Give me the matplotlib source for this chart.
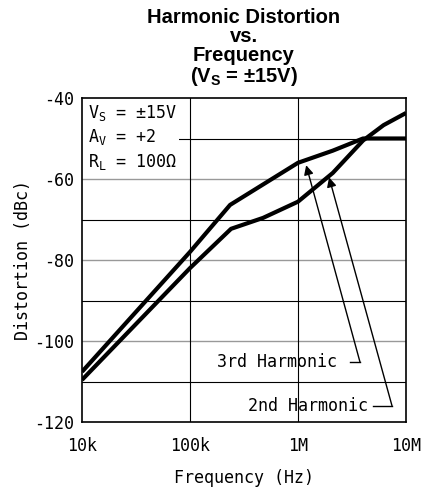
import numpy as np
import matplotlib.pyplot as plt

# distortion curves
freq_3rd = [1e4, 1e5, 2.35e5, 1e6, 2.1e6, 4e6, 1e7]
dist_3rd = [-107.6, -78.0, -66.4, -56.0, -53.0, -50.0, -50.0]

freq_2nd = [1e4, 1e5, 2.4e5, 4.75e5, 1e6, 2.1e6, 4e6, 6.2e6, 1e7]
dist_2nd = [-109.6, -82.0, -72.3, -69.6, -65.6, -58.5, -50.5, -46.7, -43.7]

yticks = [-40, -60, -80, -100, -120]
xticks = [1e4, 1e5, 1e6, 1e7]
xtick_labels = ['10k', '100k', '1M', '10M']

mono = 'DejaVu Sans Mono'
fs = 12

fig = plt.figure(figsize=(4.22, 4.95), dpi=100)
ax = fig.add_axes([82/422, 1 - 422/495, 324/422, 324/495])
ax.set_xscale('log')
ax.set_xlim(1e4, 1e7)
ax.set_ylim(-120, -40)

# grid: grey on labelled lines, black in between
for y in [-60, -80, -100]:
    ax.axhline(y, color='#999999', lw=1.0, zorder=1)
for y in [-70, -90, -110]:
    ax.axhline(y, color='black', lw=0.8, zorder=1)
ax.plot([5.3e4, 1e7], [-50, -50], color='black', lw=0.8, zorder=1)
for x in [1e5, 1e6]:
    ax.axvline(x, color='black', lw=0.8, zorder=1)

ax.plot(freq_3rd, dist_3rd, color='black', lw=3, solid_capstyle='butt', zorder=3)
ax.plot(freq_2nd, dist_2nd, color='black', lw=3, solid_capstyle='butt', zorder=3)

ax.set_yticks(yticks)
ax.set_yticklabels([str(t) for t in yticks], family=mono, fontsize=fs)
ax.set_xticks(xticks)
ax.set_xticklabels(xtick_labels, family=mono, fontsize=fs)
ax.minorticks_off()
ax.tick_params(axis='y', length=0, pad=6)
ax.tick_params(axis='x', length=0, pad=11)
for s in ax.spines.values():
    s.set_linewidth(1.2)

ax.set_xlabel('Frequency (Hz)', family=mono, fontsize=fs, labelpad=10)
ax.set_ylabel('Distortion (dBc)', family=mono, fontsize=fs, labelpad=1)

# conditions box
ax.text(0.02, 0.985, '$\\mathregular{V_S}$ = ±15V\n$\\mathregular{A_V}$ = +2\n$\\mathregular{R_L}$ = 100Ω',
        transform=ax.transAxes, va='top', ha='left', family=mono, fontsize=fs,
        linespacing=1.3, zorder=4,
        bbox=dict(facecolor='white', edgecolor='none', pad=1))

# curve labels with leader lines
ax.text(2.3e6, -105.2, '3rd Harmonic', family=mono, fontsize=fs,
        ha='right', va='center', zorder=4)
ax.plot([3.0e6, 3.75e6], [-105.2, -105.2], color='black', lw=1, zorder=4)
ax.annotate('', xy=(1.19e6, -56.6), xytext=(3.75e6, -105.2),
            arrowprops=dict(arrowstyle='-|>', color='black', lw=1,
                            mutation_scale=14, shrinkA=0, shrinkB=0), zorder=4)

ax.text(4.45e6, -116.0, '2nd Harmonic', family=mono, fontsize=fs,
        ha='right', va='center', zorder=4)
ax.plot([5.0e6, 7.42e6], [-116.0, -116.0], color='black', lw=1, zorder=4)
ax.annotate('', xy=(1.94e6, -59.6), xytext=(7.42e6, -116.0),
            arrowprops=dict(arrowstyle='-|>', color='black', lw=1,
                            mutation_scale=14, shrinkA=0, shrinkB=0), zorder=4)

fig.text(244/422, 1 - 82/495, 'Harmonic Distortion\nvs.\nFrequency\n($\\mathregular{V_S}$ = ±15V)',
         ha='center', va='baseline', family='Liberation Sans', weight='bold',
         fontsize=14.5, linespacing=1.0)

fig.savefig('out.png', dpi=100)
